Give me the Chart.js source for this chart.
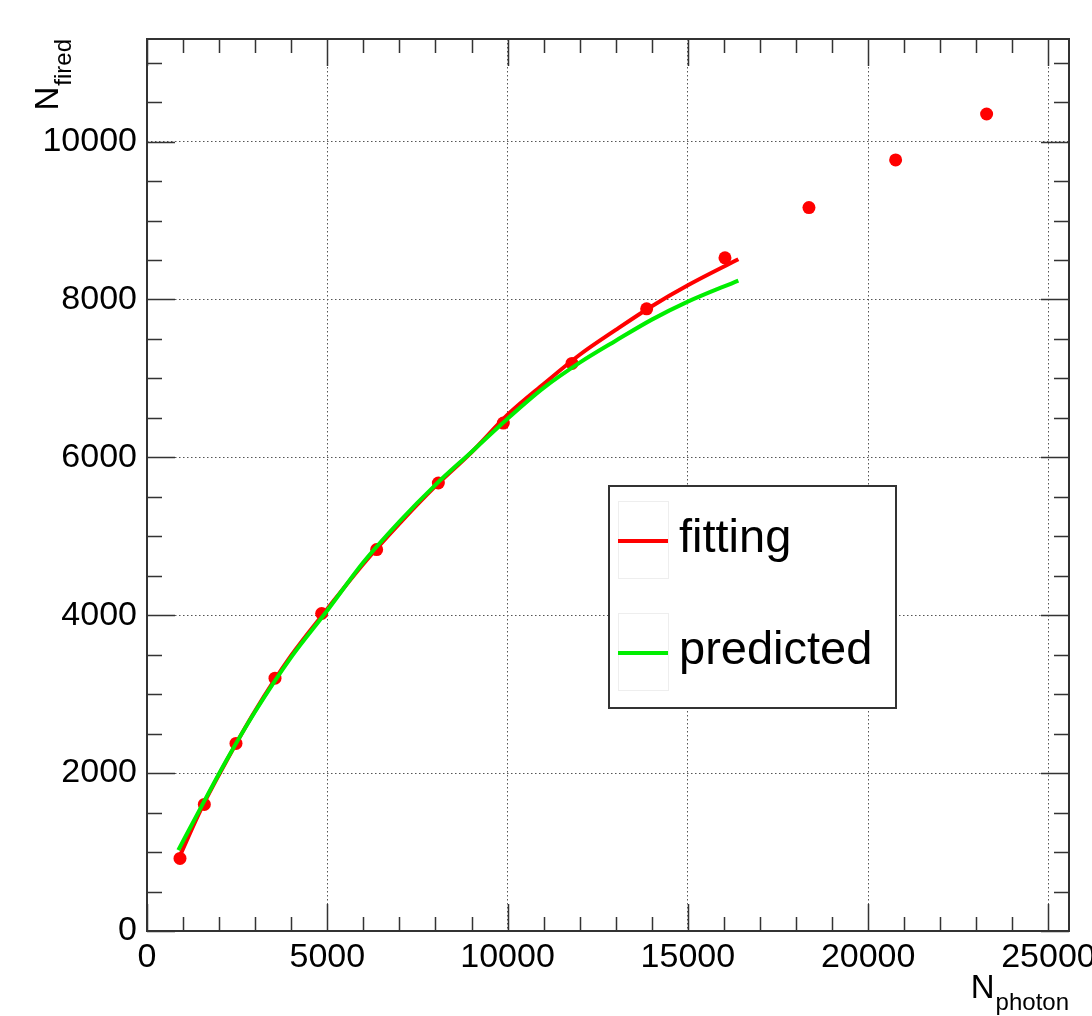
<!DOCTYPE html>
<html>
<head>
<meta charset="utf-8">
<title>N_fired vs N_photon</title>
<script src="https://cdn.jsdelivr.net/npm/chart.js@4/dist/chart.umd.min.js"></script>
<style>
  html, body { margin: 0; padding: 0; background: #fff; }
  #wrap { width: 1092px; height: 1016px; }
</style>
</head>
<body>
<div id="wrap"><canvas id="c" width="1092" height="1016"></canvas></div>
<script>
// Measured points (photons in, cells fired)
const pointX = [915, 1590, 2468, 3550, 4844, 6369, 8080, 9882, 11786, 13857, 16029, 18358, 20762, 23285];
const pointY = [920, 1604, 2376, 3203, 4022, 4832, 5675, 6434, 7190, 7882, 8528, 9165, 9768, 10350];

// Fitted curve
const fitX = [900, 1500, 2200, 3000, 4000, 5000, 6000, 7000, 8000, 9000, 10000, 11000, 12000, 13000, 14000, 15000, 16400];
const fitY = [940, 1545, 2150, 2790, 3490, 4080, 4650, 5160, 5635, 6065, 6540, 6930, 7300, 7615, 7915, 8180, 8510];

// Predicted curve
const predX = [868, 1500, 2200, 3000, 4000, 5000, 6000, 7000, 8000, 9000, 10000, 11000, 12000, 13000, 14000, 15000, 16400];
const predY = [1025, 1570, 2160, 2780, 3470, 4060, 4671, 5187, 5652, 6069, 6490, 6880, 7200, 7478, 7745, 7973, 8240];

// Axis settings
const xRange = [0, 25570];
const yRange = [0, 11300];
const xTickValues = [0, 5000, 10000, 15000, 20000, 25000];
const yTickValues = [0, 2000, 4000, 6000, 8000, 10000];
const xMinor = 1000;
const yMinor = 500;

const legendLabels = ['fitting', 'predicted'];
const FONT = "'Liberation Sans', Arial, Helvetica, sans-serif";

const toXY = (xs, ys) => xs.map((x, i) => ({ x: x, y: ys[i] }));

// Frame, inward ticks, axis titles and legend box
const decorations = {
  id: 'decorations',
  afterDraw(chart) {
    const ctx = chart.ctx;
    const a = chart.chartArea;
    const xs = chart.scales.x, ys = chart.scales.y;
    ctx.save();
    ctx.strokeStyle = '#333';
    ctx.lineWidth = 2;
    ctx.strokeRect(a.left, a.top, a.right - a.left, a.bottom - a.top);

    ctx.lineWidth = 1.5;
    ctx.beginPath();
    for (let v = xRange[0]; v <= xRange[1]; v += xMinor) {
      const px = Math.round(xs.getPixelForValue(v)) + 0.5;
      const len = xTickValues.includes(v) ? 27 : 14;
      ctx.moveTo(px, a.bottom); ctx.lineTo(px, a.bottom - len);
      ctx.moveTo(px, a.top); ctx.lineTo(px, a.top + len);
    }
    for (let v = yRange[0]; v <= yRange[1]; v += yMinor) {
      const py = Math.round(ys.getPixelForValue(v)) + 0.5;
      const len = yTickValues.includes(v) ? 28 : 15;
      ctx.moveTo(a.left, py); ctx.lineTo(a.left + len, py);
      ctx.moveTo(a.right, py); ctx.lineTo(a.right - len, py);
    }
    ctx.stroke();

    // x-axis title: N_photon, right-aligned with the frame
    ctx.fillStyle = '#000';
    ctx.textBaseline = 'alphabetic';
    ctx.textAlign = 'left';
    ctx.font = '24px ' + FONT;
    const subX = 'photon';
    const wSubX = ctx.measureText(subX).width;
    ctx.fillText(subX, a.right - wSubX, 1010);
    ctx.font = '33px ' + FONT;
    const wN = ctx.measureText('N').width;
    ctx.fillText('N', a.right - wSubX - wN - 1, 998);

    // y-axis title: N_fired, rotated, ending at the top of the frame
    ctx.save();
    ctx.rotate(-Math.PI / 2);
    ctx.font = '24px ' + FONT;
    const subY = 'fired';
    const wSubY = ctx.measureText(subY).width;
    ctx.fillText(subY, -(a.top + wSubY), 71);
    ctx.font = '33px ' + FONT;
    ctx.fillText('N', -(a.top + wSubY + wN + 1), 58);
    ctx.restore();

    // legend
    const box = { l: 609, t: 486, r: 896, b: 708 };
    ctx.fillStyle = '#fff';
    ctx.fillRect(box.l, box.t, box.r - box.l, box.b - box.t);
    ctx.strokeStyle = '#333';
    ctx.lineWidth = 2;
    ctx.strokeRect(box.l, box.t, box.r - box.l, box.b - box.t);
    const rows = [541, 653];
    const colors = [chart.data.datasets[1].borderColor, chart.data.datasets[2].borderColor];
    rows.forEach((ry, i) => {
      ctx.strokeStyle = '#eee';
      ctx.lineWidth = 1;
      ctx.strokeRect(618.5, ry - 39.5, 50, 77);
      ctx.strokeStyle = colors[i];
      ctx.lineWidth = 4;
      ctx.beginPath();
      ctx.moveTo(618, ry); ctx.lineTo(668, ry);
      ctx.stroke();
      ctx.fillStyle = '#000';
      ctx.font = '47px ' + FONT;
      ctx.textAlign = 'left';
      ctx.textBaseline = 'alphabetic';
      ctx.fillText(legendLabels[i], 679, ry + 11);
    });
    ctx.restore();
  }
};

new Chart(document.getElementById('c').getContext('2d'), {
  type: 'scatter',
  data: {
    datasets: [
      {
        label: 'data',
        data: toXY(pointX, pointY),
        backgroundColor: '#ff0000',
        borderColor: '#ff0000',
        pointRadius: 6.5,
        pointBorderWidth: 0,
        showLine: false,
        order: 3
      },
      {
        label: legendLabels[0],
        data: toXY(fitX, fitY),
        borderColor: '#ff0000',
        borderWidth: 4,
        pointRadius: 0,
        showLine: true,
        cubicInterpolationMode: 'monotone',
        order: 2
      },
      {
        label: legendLabels[1],
        data: toXY(predX, predY),
        borderColor: '#00ee00',
        borderWidth: 4,
        pointRadius: 0,
        showLine: true,
        cubicInterpolationMode: 'monotone',
        order: 1
      }
    ]
  },
  options: {
    responsive: false,
    animation: false,
    layout: { padding: { left: 0, top: 39, right: 23, bottom: 0 } },
    plugins: { legend: { display: false }, tooltip: { enabled: false } },
    scales: {
      x: {
        type: 'linear',
        position: 'bottom',
        min: xRange[0],
        max: xRange[1],
        afterBuildTicks(s) { s.ticks = xTickValues.map(v => ({ value: v })); },
        ticks: {
          autoSkip: false,
          maxRotation: 0,
          padding: 6,
          color: '#000',
          font: { family: FONT, size: 34 },
          callback: v => String(v)
        },
        grid: { drawTicks: false, color: '#555', lineWidth: 1 },
        border: { display: false, dash: [1.5, 2.5] },
        afterFit(s) { s.height = 85; s.paddingLeft = 0; s.paddingRight = 0; }
      },
      y: {
        type: 'linear',
        min: yRange[0],
        max: yRange[1],
        afterBuildTicks(s) { s.ticks = yTickValues.map(v => ({ value: v })); },
        ticks: {
          autoSkip: false,
          padding: 10,
          color: '#000',
          font: { family: FONT, size: 34 },
          callback: v => String(v)
        },
        grid: { drawTicks: false, color: '#555', lineWidth: 1 },
        border: { display: false, dash: [1.5, 2.5] },
        afterFit(s) { s.width = 147; s.paddingTop = 0; s.paddingBottom = 0; }
      }
    }
  },
  plugins: [decorations]
});
</script>
</body>
</html>
